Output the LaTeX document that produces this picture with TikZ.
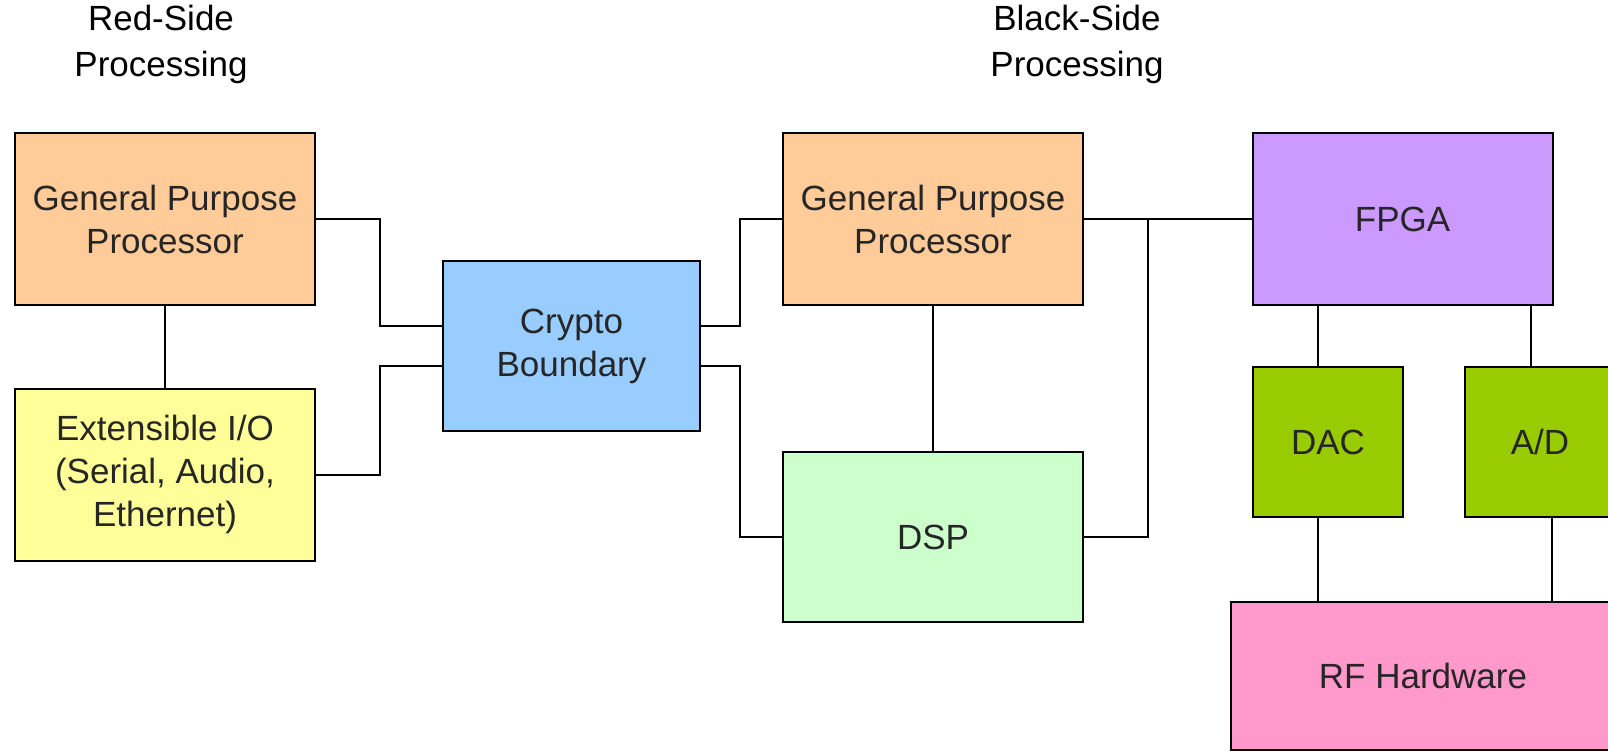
\documentclass[tikz,border=0pt]{standalone}
\usepackage{fontspec}
\setmainfont{Liberation Sans}
\usepackage{tikz}

\definecolor{gppcolor}{HTML}{FFCC99}
\definecolor{iocolor}{HTML}{FFFF99}
\definecolor{cryptocolor}{HTML}{99CCFF}
\definecolor{dspcolor}{HTML}{CCFFCC}
\definecolor{fpgacolor}{HTML}{CC99FF}
\definecolor{convcolor}{HTML}{99CC00}
\definecolor{rfcolor}{HTML}{FF99CC}

\begin{document}
\begin{tikzpicture}[
  x=0.5pt, y=-0.5pt,
  every node/.style={font=\fontsize{17.5pt}{21.5pt}\selectfont, text=black!85},
  block/.style={draw, line width=1pt, align=center, inner sep=0pt},
  wide block/.style={block, minimum width=150pt, minimum height=86pt},
  small block/.style={block, minimum width=75pt, minimum height=75pt},
  side label/.style={align=center, text=black, font=\fontsize{17.5pt}{23pt}\selectfont},
  link/.style={draw, line width=1pt}
]
\useasboundingbox (0,0) rectangle (1608,751);

% headings
\node[side label] (redlabel) at (161,44) {Red-Side\\Processing};
\node[side label] (blacklabel) at (1077,44) {Black-Side\\Processing};

% red side
\node[wide block, fill=gppcolor] (gppred) at (165,219) {General Purpose\\Processor};
\node[wide block, fill=iocolor] (extio) at (165,474.5) {Extensible I/O\\(Serial, Audio,\\Ethernet)};
\node[block, fill=cryptocolor, minimum width=128.5pt, minimum height=85pt] (crypto) at (571.5,346) {Crypto\\Boundary};

% black side
\node[wide block, fill=gppcolor] (gppblack) at (933,219) {General Purpose\\Processor};
\node[wide block, fill=dspcolor, minimum height=85pt] (dsp) at (933,537) {DSP};
\node[wide block, fill=fpgacolor] (fpga) at (1402.5,219) {FPGA};
\node[small block, fill=convcolor] (dac) at (1328,442) {DAC};
\node[small block, fill=convcolor] (adc) at (1540,442) {A/D};
\node[block, fill=rfcolor, minimum width=192pt, minimum height=74pt] (rf) at (1423,676) {RF Hardware};

% connections
\draw[link] (gppred) -- (extio);
\draw[link] (gppred.east) -- ++(64,0) |- ([yshift=10pt]crypto.west);
\draw[link] (extio.east) -- ++(64,0) |- ([yshift=-10pt]crypto.west);
\draw[link] ([yshift=10pt]crypto.east) -- ++(39,0) |- (gppblack.west);
\draw[link] ([yshift=-10pt]crypto.east) -- ++(39,0) |- (dsp.west);
\draw[link] (gppblack) -- (dsp);
\draw[link] (gppblack.east) -- (fpga.west);
\draw[link] (gppblack.east) ++(64,0) coordinate (tap) |- (dsp.east);
\draw[link] ([xshift=-5pt]dac.north) -- ([xshift=-5pt]dac.north |- fpga.south);
\draw[link] ([xshift=-4.5pt]adc.north) -- ([xshift=-4.5pt]adc.north |- fpga.south);
\draw[link] ([xshift=-5pt]dac.south) -- ([xshift=-5pt]dac.south |- rf.north);
\draw[link] ([xshift=6pt]adc.south) -- ([xshift=6pt]adc.south |- rf.north);
\end{tikzpicture}
\end{document}
